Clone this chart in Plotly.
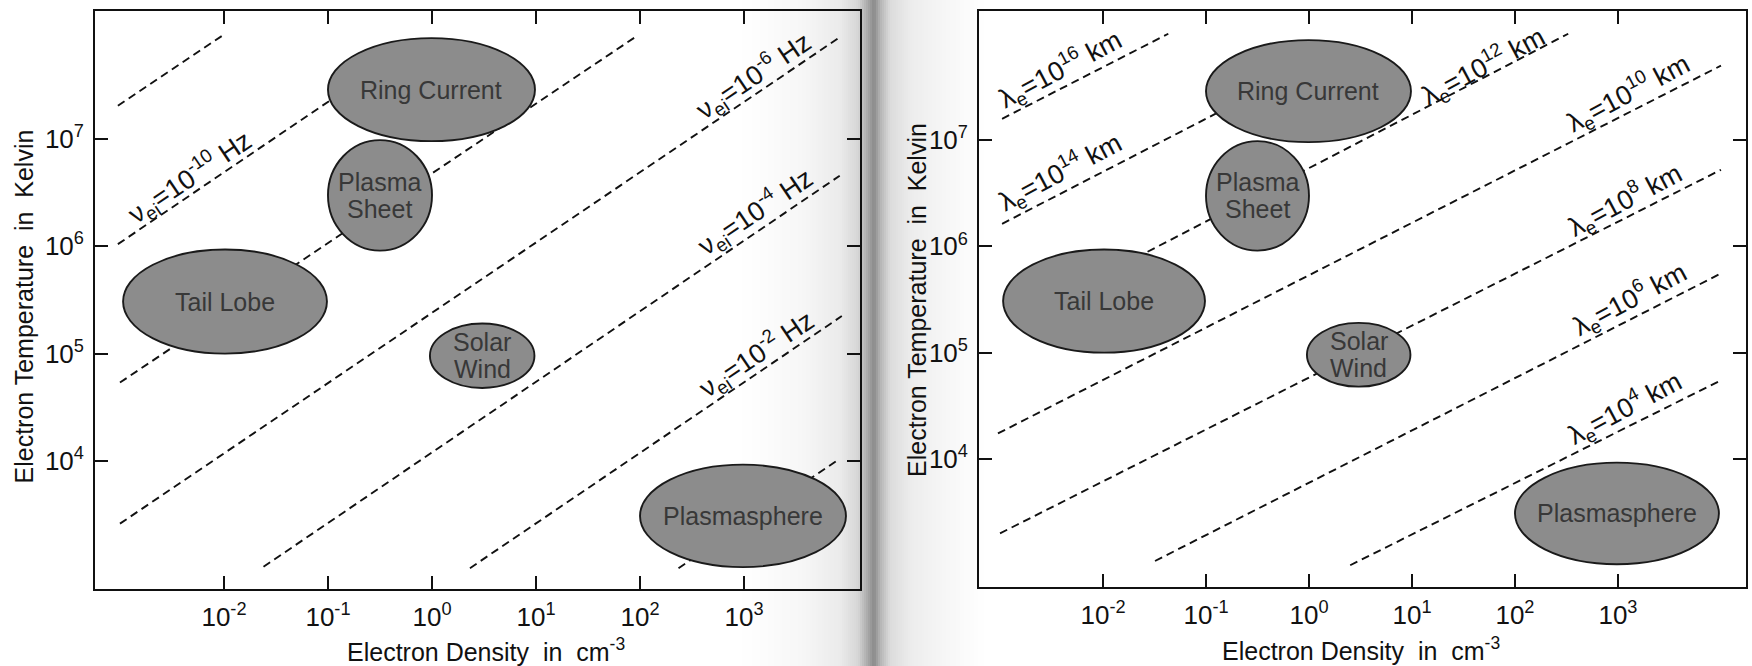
import plotly.graph_objects as go

W, H = 1752, 666
FONT = "Liberation Sans, Arial, Helvetica, sans-serif"

# ---------------- data (log10 values) ----------------
# plasma regions: log10 density range (cm^-3) and log10 temperature range (K)
region_names = ["Ring Current", "Plasma|Sheet", "Tail Lobe", "Solar|Wind", "Plasmasphere"]
region_logn_min = [-1.00, -1.00, -2.97, -0.02, 2.00]
region_logn_max = [0.99, 0.00, -1.01, 0.985, 3.98]
region_logT_min = [6.98, 5.96, 5.00, 4.68, 3.01]
region_logT_max = [7.94, 6.99, 5.97, 5.28, 3.965]

# collision frequency lines (left panel): endpoints in log10 units
nu_exponent = [-12, -10, -8, -6, -4, -2, 0]
nu_labelled = [False, True, False, True, True, True, False]
nu_logn_start = [-3.02, -3.02, -3.00, -3.00, -1.62, 0.365, 2.37]
nu_logT_start = [7.31, 6.02, 4.73, 3.415, 3.013, 3.00, 3.00]
nu_logn_end = [-1.99, -0.40, 1.97, 3.92, 3.92, 3.94, 3.92]
nu_logT_end = [7.98, 7.74, 7.96, 7.948, 6.658, 5.35, 4.02]
nu_label_logn = [None, -2.327, None, 3.089, 3.106, 3.122, None]
nu_label_logT = [None, 6.644, None, 7.587, 6.316, 4.993, None]

# mean free path lines (right panel): endpoints in log10 units
lam_exponent = [16, 14, 12, 10, 8, 6, 4]
lam_logn_start = [-2.98, -2.98, -2.80, -3.02, -3.00, -1.495, 0.40]
lam_logT_start = [7.20, 6.212, 5.33, 4.24, 3.30, 3.04, 3.00]
lam_logn_end = [-1.366, 0.00, 2.517, 4.00, 4.00, 4.00, 4.00]
lam_logT_end = [8.00, 7.70, 8.00, 7.70, 6.72, 5.745, 4.74]
lam_label_logn = [-2.417, -2.417, 1.692, 3.10, 3.068, 3.117, 3.068]
lam_label_logT = [7.671, 6.699, 7.699, 7.441, 6.438, 5.50, 4.478]

x_tick_exp = [-2, -1, 0, 1, 2, 3]
y_tick_exp = [4, 5, 6, 7]

x_title = "Electron Density\u00a0 in\u00a0 cm<sup>-3</sup>"
y_title = "Electron Temperature\u00a0 in\u00a0 Kelvin"

# ---------------- figure ----------------
fig = go.Figure()

dash_line = dict(color="#111111", width=1.9, dash="8px,5px")

for i in range(len(nu_exponent)):
    fig.add_trace(go.Scatter(
        x=[10 ** nu_logn_start[i], 10 ** nu_logn_end[i]],
        y=[10 ** nu_logT_start[i], 10 ** nu_logT_end[i]],
        mode="lines", line=dash_line, xaxis="x", yaxis="y",
        showlegend=False, hoverinfo="skip"))

for i in range(len(lam_exponent)):
    fig.add_trace(go.Scatter(
        x=[10 ** lam_logn_start[i], 10 ** lam_logn_end[i]],
        y=[10 ** lam_logT_start[i], 10 ** lam_logT_end[i]],
        mode="lines", line=dash_line, xaxis="x2", yaxis="y2",
        showlegend=False, hoverinfo="skip"))

shapes = []
annotations = []

# gutter / page-curvature shading of the scanned page (styling only)
shade_keys = [(740, 0.0), (800, 0.03), (840, 0.08), (858, 0.16), (868, 0.34),
              (874, 0.46), (880, 0.30), (890, 0.14), (912, 0.07), (950, 0.03), (985, 0.0)]
for k in range(len(shade_keys) - 1):
    (xa, aa), (xb, ab) = shade_keys[k], shade_keys[k + 1]
    x = xa
    while x < xb:
        x2 = min(x + 2, xb)
        t = (x + x2) / 2
        a = aa + (ab - aa) * (t - xa) / (xb - xa)
        shapes.append(dict(type="rect", xref="paper", yref="paper", x0=x / W, x1=x2 / W,
                           y0=0, y1=1, line=dict(width=0),
                           fillcolor=f"rgba(0,0,0,{a:.3f})", layer="below"))
        x = x2

for ax_suffix in ["", "2"]:
    for i, name in enumerate(region_names):
        shapes.append(dict(
            type="circle", xref="x" + ax_suffix, yref="y" + ax_suffix,
            x0=10 ** region_logn_min[i], x1=10 ** region_logn_max[i],
            y0=10 ** region_logT_min[i], y1=10 ** region_logT_max[i],
            fillcolor="#8c8c8c", line=dict(color="#1a1a1a", width=1.9), layer="above"))
        cx = (region_logn_min[i] + region_logn_max[i]) / 2
        cy = (region_logT_min[i] + region_logT_max[i]) / 2
        parts = name.split("|")
        shifts = [0] if len(parts) == 1 else [13.5, -13.5]
        for p, s in zip(parts, shifts):
            annotations.append(dict(
                x=cx, y=cy, xref="x" + ax_suffix, yref="y" + ax_suffix, text=p,
                xanchor="center", yanchor="middle",
                showarrow=False, yshift=s, font=dict(family=FONT, size=25, color="#383838")))

label_font = dict(family=FONT, size=27, color="#111111")
for i in range(len(nu_exponent)):
    if nu_labelled[i]:
        annotations.append(dict(
            x=nu_label_logn[i], y=nu_label_logT[i], xref="x", yref="y",
            text=f"ν<sub>ei</sub>=10<sup>{nu_exponent[i]}</sup> Hz",
            xanchor="center", yanchor="middle",
            textangle=-34, showarrow=False, font=label_font))

for i in range(len(lam_exponent)):
    annotations.append(dict(
        x=lam_label_logn[i], y=lam_label_logT[i], xref="x2", yref="y2",
        text=f"λ<sub>e</sub>=10<sup>{lam_exponent[i]}</sup> km",
        xanchor="center", yanchor="middle",
        textangle=-28, showarrow=False, font=label_font))

title_font = dict(family=FONT, size=25, color="#111111")
annotations += [
    dict(x=486 / W, y=1 - 650 / H, xref="paper", yref="paper", text=x_title,
         xanchor="center", yanchor="middle", showarrow=False, font=title_font),
    dict(x=1361 / W, y=1 - 649 / H, xref="paper", yref="paper", text=x_title,
         xanchor="center", yanchor="middle", showarrow=False, font=title_font),
    dict(x=23.5 / W, y=1 - 307 / H, xref="paper", yref="paper", text=y_title,
         xanchor="center", yanchor="middle",
         textangle=-90, showarrow=False, font=title_font),
    dict(x=917 / W, y=1 - 300 / H, xref="paper", yref="paper", text=y_title,
         xanchor="center", yanchor="middle",
         textangle=-90, showarrow=False, font=title_font),
]


def axis(domain, rng, tick_exp, anchor):
    return dict(
        type="log", domain=domain, range=rng, anchor=anchor,
        tickvals=[10 ** e for e in tick_exp],
        ticktext=[f"10<sup>{e}</sup>" for e in tick_exp],
        ticks="inside", ticklen=13, tickwidth=1.7, tickcolor="#111111",
        showline=True, linecolor="#111111", linewidth=1.7, mirror="ticks",
        showgrid=False, zeroline=False, ticklabelstandoff=4,
        tickfont=dict(family=FONT, size=26, color="#111111"))


fig.update_layout(
    width=W, height=H, margin=dict(l=0, r=0, t=0, b=0),
    paper_bgcolor="white", plot_bgcolor="rgba(0,0,0,0)",
    xaxis=axis([95 / W, 860 / W], [-3.24, 4.115], x_tick_exp, "y"),
    yaxis=axis([77 / H, 655 / H], [2.806, 8.193], y_tick_exp, "x"),
    xaxis2=axis([979 / W, 1746 / W], [-3.204, 4.243], x_tick_exp, "y2"),
    yaxis2=axis([79.5 / H, 655 / H], [2.80, 8.214], y_tick_exp, "x2"),
    shapes=shapes, annotations=annotations, showlegend=False)

fig.write_html("out.html")
